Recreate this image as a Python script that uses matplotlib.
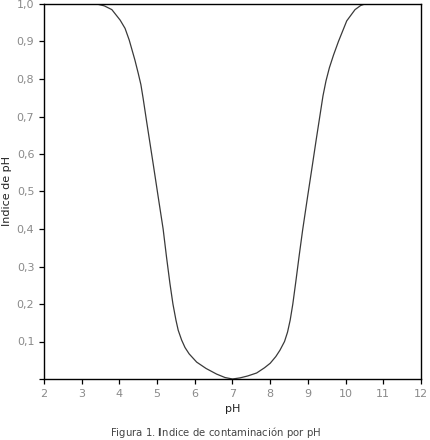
import matplotlib
matplotlib.use("Agg")
import matplotlib.pyplot as plt

# Curve (pH vs contamination index)
ph_left = [2.0, 3.0, 3.4, 3.6, 3.8, 4.02, 4.15, 4.26, 4.41, 4.5, 4.57, 4.63, 4.72, 4.90,
           5.03, 5.16, 5.25, 5.34, 5.42, 5.5, 5.56, 5.65, 5.74, 5.85, 6.05, 6.3, 6.58, 6.8, 7.0]
idx_left = [1.0, 1.0, 1.0, 0.995, 0.985, 0.957, 0.935, 0.904, 0.851, 0.815, 0.785, 0.748, 0.688, 0.571,
            0.485, 0.40, 0.325, 0.255, 0.2, 0.157, 0.13, 0.104, 0.084, 0.067, 0.045, 0.028, 0.013, 0.004, 0.0]

ph_right = [7.0, 7.2, 7.4, 7.64, 7.85, 8.0, 8.15, 8.26, 8.38, 8.46, 8.53, 8.6, 8.68, 8.77,
            8.86, 8.99, 9.12, 9.22, 9.3, 9.4, 9.48, 9.57, 9.68, 9.81, 10.03, 10.25, 10.4, 10.51, 11.0, 12.0]
idx_right = [0.0, 0.003, 0.008, 0.016, 0.03, 0.042, 0.06, 0.077, 0.1, 0.125, 0.157, 0.2, 0.26, 0.33,
             0.397, 0.485, 0.571, 0.638, 0.69, 0.755, 0.795, 0.83, 0.864, 0.9, 0.955, 0.985, 0.996, 1.0, 1.0, 1.0]

x_ticks = list(range(2, 13))
y_ticks = [0.0, 0.1, 0.2, 0.3, 0.4, 0.5, 0.6, 0.7, 0.8, 0.9, 1.0]
y_labels = [""] + ["0,1", "0,2", "0,3", "0,4", "0,5", "0,6", "0,7", "0,8", "0,9", "1,0"]

fig = plt.figure(figsize=(4.31, 4.40), dpi=100)
ax = fig.add_axes([44 / 431, 1 - 379 / 440, 377 / 431, 375 / 440])

ax.plot(ph_left + ph_right[1:], idx_left + idx_right[1:], color="#3a3a3a", lw=0.9)

ax.set_xlim(2, 12)
ax.set_ylim(0, 1.0)
ax.set_xticks(x_ticks)
ax.set_yticks(y_ticks)
ax.set_yticklabels(y_labels)
ax.tick_params(direction="out", length=3.5, width=0.9, pad=3.5,
               labelsize=8, labelcolor="#8a8a8a", color="black")
for s in ax.spines.values():
    s.set_linewidth(1.0)

ax.set_xlabel("pH", fontsize=8, color="#222222", labelpad=4)
ax.set_ylabel("Indice de pH", fontsize=8, color="#222222", labelpad=3)

fig.text(0.5, 1 - 432 / 440, "Figura 1. $\\mathbf{I}$ndice de contaminación por pH",
         ha="center", va="center", fontsize=7.3, color="#444444")

fig.savefig("out.png", dpi=100)
